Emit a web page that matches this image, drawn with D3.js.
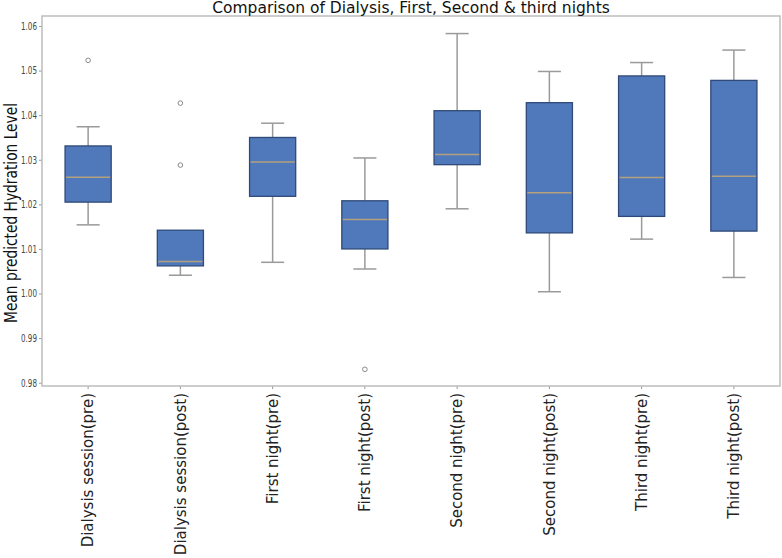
<!DOCTYPE html>
<html>
<head>
<meta charset="utf-8">
<script src="https://cdn.jsdelivr.net/npm/d3@7"></script>
<style>
  html, body { margin: 0; padding: 0; background: #fff; }
  svg { display: block; }
  text { font-family: "DejaVu Sans", sans-serif; }
</style>
</head>
<body>
<svg id="chart" width="782" height="558"></svg>
<script>
const categories = [
  "Dialysis session(pre)", "Dialysis session(post)", "First night(pre)", "First night(post)",
  "Second night(pre)", "Second night(post)", "Third night(pre)", "Third night(post)"
];
const whiskerLow  = [1.0154, 1.0041, 1.0070, 1.0055, 1.0190, 1.0004, 1.0122, 1.0036];
const q1          = [1.0205, 1.0062, 1.0218, 1.0100, 1.0289, 1.0136, 1.0173, 1.0140];
const median      = [1.0261, 1.0072, 1.0295, 1.0166, 1.0312, 1.0226, 1.0260, 1.0263];
const q3          = [1.0331, 1.0142, 1.0350, 1.0208, 1.0410, 1.0428, 1.0488, 1.0478];
const whiskerHigh = [1.0374, 1.0142, 1.0382, 1.0304, 1.0583, 1.0498, 1.0518, 1.0546];
const outliers    = [[1.0523], [1.0427, 1.0288], [], [0.9830], [], [], [], []];
const yTicks = [0.98, 0.99, 1.00, 1.01, 1.02, 1.03, 1.04, 1.05, 1.06];
const title = "Comparison of Dialysis, First, Second & third nights";
const yLabel = "Mean predicted Hydration Level";

const svg = d3.select("#chart");
const L = 42, R = 780, T = 16, B = 386;

const x = d3.scaleBand().domain(categories).range([L, R]).paddingInner(0.5).paddingOuter(0.25);
const y = d3.scaleLinear().domain([0.97926, 1.06224]).range([B, T]);

const data = categories.map((c, i) => ({
  c, lo: whiskerLow[i], q1: q1[i], med: median[i], q3: q3[i], hi: whiskerHigh[i], out: outliers[i]
}));

// y axis
const yAxis = d3.axisLeft(y).tickValues(yTicks).tickFormat(d3.format(".2f")).tickSize(3).tickPadding(2);
const gy = svg.append("g").attr("transform", `translate(${L},0)`).call(yAxis);
gy.select(".domain").remove();
gy.selectAll(".tick line").attr("stroke", "#999");
gy.selectAll(".tick text").attr("fill", "#444").style("font-size", "10.5px").style("font-family", "DejaVu Sans")
  .attr("textLength", 16).attr("lengthAdjust", "spacingAndGlyphs");

// x axis
const xAxis = d3.axisBottom(x).tickSize(3).tickPadding(3);
const gx = svg.append("g").attr("transform", `translate(0,${B})`).call(xAxis);
gx.select(".domain").remove();
gx.selectAll(".tick line").attr("stroke", "#999");
gx.selectAll(".tick text")
  .attr("fill", "#222")
  .style("font-size", "15px").style("font-family", "DejaVu Sans")
  .attr("text-anchor", "end")
  .attr("transform", "rotate(-90)")
  .attr("x", -7).attr("y", 0).attr("dy", "0.35em");

// frame
svg.append("rect").attr("x", L).attr("y", T).attr("width", R - L).attr("height", B - T)
  .attr("fill", "none").attr("stroke", "#bdbdbd").attr("stroke-width", 1.5);

const bw = x.bandwidth();
const g = svg.append("g").selectAll("g").data(data).join("g")
  .attr("transform", d => `translate(${x(d.c) + bw / 2},0)`);

// whiskers
g.append("line").attr("x1", 0).attr("x2", 0).attr("y1", d => y(d.q3)).attr("y2", d => y(d.hi))
  .attr("stroke", "#9a9a9a").attr("stroke-width", 1.5);
g.append("line").attr("x1", 0).attr("x2", 0).attr("y1", d => y(d.q1)).attr("y2", d => y(d.lo))
  .attr("stroke", "#9a9a9a").attr("stroke-width", 1.5);
// caps
g.filter(d => d.hi > d.q3).append("line").attr("x1", -bw / 4).attr("x2", bw / 4).attr("y1", d => y(d.hi)).attr("y2", d => y(d.hi))
  .attr("stroke", "#9a9a9a").attr("stroke-width", 1.5);
g.append("line").attr("x1", -bw / 4).attr("x2", bw / 4).attr("y1", d => y(d.lo)).attr("y2", d => y(d.lo))
  .attr("stroke", "#9a9a9a").attr("stroke-width", 1.5);
// boxes
g.append("rect").attr("x", -bw / 2).attr("width", bw)
  .attr("y", d => y(d.q3)).attr("height", d => y(d.q1) - y(d.q3))
  .attr("fill", "#5079bb").attr("stroke", "#2f4a78").attr("stroke-width", 1.3);
// medians
g.append("line").attr("x1", -bw / 2 + 1).attr("x2", bw / 2 - 1).attr("y1", d => y(d.med)).attr("y2", d => y(d.med))
  .attr("stroke", "#b3a07e").attr("stroke-width", 1.5);
// outliers
g.selectAll("circle").data(d => d.out).join("circle")
  .attr("cx", 0).attr("cy", v => y(v)).attr("r", 2.3)
  .attr("fill", "none").attr("stroke", "#8a8a8a").attr("stroke-width", 1);

// title
svg.append("text").attr("x", (L + R) / 2).attr("y", 13).attr("text-anchor", "middle")
  .attr("fill", "#111").style("font-size", "15.5px").text(title);

// y label
svg.append("text").attr("transform", `translate(17,213) rotate(-90)`)
  .attr("text-anchor", "middle").attr("fill", "#111").style("font-size", "17px")
  .attr("textLength", 220).attr("lengthAdjust", "spacingAndGlyphs")
  .text(yLabel);
</script>
</body>
</html>
